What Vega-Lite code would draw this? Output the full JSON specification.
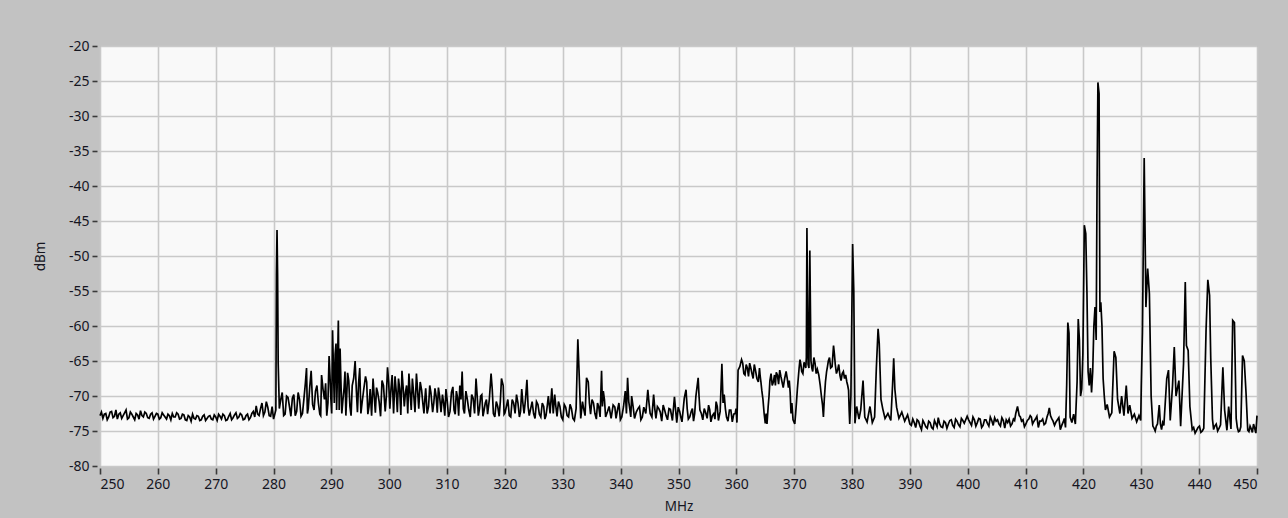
{
  "$schema": "https://vega.github.io/schema/vega-lite/v6.json",
  "width": 1157,
  "height": 420,
  "autosize": {"type": "none"},
  "padding": {"left": 100, "top": 46, "right": 31, "bottom": 52},
  "background": "#c2c2c2",
  "config": {
    "view": {"fill": "#f9f9f9", "stroke": "#9a9a9a", "strokeWidth": 1},
    "axis": {
      "labelFont": "Noto Sans",
      "titleFont": "Noto Sans",
      "labelFontSize": 14,
      "titleFontSize": 13.5,
      "titleFontWeight": "normal",
      "labelColor": "#15151f",
      "titleColor": "#15151f",
      "gridColor": "#c9c9c9",
      "gridWidth": 1.6,
      "tickColor": "#3a3a3a",
      "tickWidth": 1.6,
      "domain": false
    }
  },
  "data": {
    "values": [
      {"f":250.0,"d":-72.8},{"f":250.5,"d":-73.2},{"f":251.0,"d":-72.5},{"f":251.5,"d":-73.0},{"f":252.0,"d":-72.2},{"f":252.5,"d":-72.9},{"f":253.0,"d":-73.3},{"f":253.5,"d":-72.4},{"f":254.0,"d":-72.8},{"f":254.5,"d":-72.0},{"f":255.0,"d":-73.1},{"f":255.5,"d":-72.6},{"f":256.0,"d":-73.4},{"f":256.5,"d":-72.7},{"f":257.0,"d":-72.1},{"f":257.5,"d":-73.0},{"f":258.0,"d":-72.5},{"f":258.5,"d":-73.2},{"f":259.0,"d":-72.4},{"f":259.5,"d":-72.9},
      {"f":260.0,"d":-72.6},{"f":260.5,"d":-73.1},{"f":261.0,"d":-72.7},{"f":261.5,"d":-73.3},{"f":262.0,"d":-72.8},{"f":262.5,"d":-72.5},{"f":263.0,"d":-73.0},{"f":263.5,"d":-72.6},{"f":264.0,"d":-73.2},{"f":264.5,"d":-72.7},{"f":265.0,"d":-73.5},{"f":265.5,"d":-73.0},{"f":266.0,"d":-72.6},{"f":266.5,"d":-73.3},{"f":267.0,"d":-72.9},{"f":267.5,"d":-73.4},{"f":268.0,"d":-72.7},{"f":268.5,"d":-73.2},{"f":269.0,"d":-72.8},{"f":269.5,"d":-73.4},
      {"f":270.0,"d":-73.0},{"f":270.5,"d":-72.6},{"f":271.0,"d":-73.3},{"f":271.5,"d":-72.8},{"f":272.0,"d":-73.4},{"f":272.5,"d":-72.5},{"f":273.0,"d":-73.1},{"f":273.5,"d":-72.4},{"f":274.0,"d":-73.0},{"f":274.5,"d":-72.7},{"f":275.0,"d":-73.3},{"f":275.5,"d":-72.6},{"f":276.0,"d":-73.1},{"f":276.5,"d":-72.2},{"f":277.0,"d":-71.4},{"f":277.5,"d":-72.8},{"f":278.0,"d":-71.0},{"f":278.5,"d":-72.3},{"f":279.0,"d":-71.6},{"f":279.5,"d":-72.9},
      {"f":280.0,"d":-73.3},{"f":280.4,"d":-72.0},{"f":280.5,"d":-52.7},{"f":280.6,"d":-46.3},{"f":280.7,"d":-52.7},{"f":280.8,"d":-65.3},{"f":281.0,"d":-71.8},{"f":281.5,"d":-69.5},{"f":282.0,"d":-72.6},{"f":282.5,"d":-70.2},{"f":283.0,"d":-72.9},{"f":283.5,"d":-69.8},{"f":284.0,"d":-72.2},{"f":284.5,"d":-70.5},{"f":285.0,"d":-72.5},{"f":285.5,"d":-68.2},{"f":285.7,"d":-66.0},{"f":286.0,"d":-71.8},{"f":286.5,"d":-66.4},{"f":287.0,"d":-72.0},{"f":287.5,"d":-68.5},{"f":288.0,"d":-72.6},{"f":288.3,"d":-67.0},{"f":288.8,"d":-70.5},{"f":289.2,"d":-72.8},{"f":289.6,"d":-64.3},{"f":289.9,"d":-70.2},
      {"f":290.2,"d":-60.6},{"f":290.5,"d":-71.0},{"f":290.8,"d":-62.5},{"f":291.0,"d":-68.5},{"f":291.2,"d":-59.2},{"f":291.5,"d":-63.2},{"f":291.8,"d":-72.5},{"f":292.2,"d":-68.8},{"f":292.5,"d":-72.8},{"f":292.8,"d":-66.7},{"f":293.2,"d":-71.5},{"f":293.6,"d":-68.5},{"f":294.1,"d":-65.0},{"f":294.5,"d":-72.3},{"f":294.9,"d":-66.0},{"f":295.3,"d":-71.0},{"f":295.9,"d":-67.2},{"f":296.3,"d":-72.6},{"f":296.7,"d":-69.0},{"f":297.2,"d":-67.5},{"f":297.6,"d":-72.4},{"f":298.0,"d":-69.5},{"f":298.5,"d":-72.9},{"f":299.0,"d":-68.5},{"f":299.7,"d":-65.9},
      {"f":300.1,"d":-71.8},{"f":300.5,"d":-67.0},{"f":301.0,"d":-67.2},{"f":301.4,"d":-72.3},{"f":301.8,"d":-69.0},{"f":302.2,"d":-66.4},{"f":302.6,"d":-71.5},{"f":303.0,"d":-68.5},{"f":303.4,"d":-66.8},{"f":303.8,"d":-72.0},{"f":304.2,"d":-69.5},{"f":304.7,"d":-66.8},{"f":305.1,"d":-71.8},{"f":305.6,"d":-69.2},{"f":306.0,"d":-72.5},{"f":306.3,"d":-68.9},{"f":306.8,"d":-71.5},{"f":307.2,"d":-69.5},{"f":307.9,"d":-68.9},{"f":308.3,"d":-72.4},{"f":308.7,"d":-70.0},{"f":309.2,"d":-69.8},{"f":309.6,"d":-72.8},
      {"f":310.0,"d":-70.5},{"f":310.5,"d":-72.2},{"f":311.0,"d":-68.7},{"f":311.4,"d":-72.6},{"f":311.8,"d":-70.2},{"f":312.2,"d":-68.5},{"f":312.6,"d":-66.5},{"f":313.0,"d":-72.5},{"f":313.5,"d":-70.5},{"f":314.0,"d":-73.0},{"f":314.5,"d":-70.3},{"f":315.0,"d":-67.5},{"f":315.4,"d":-72.8},{"f":315.8,"d":-70.0},{"f":316.2,"d":-72.9},{"f":316.6,"d":-71.0},{"f":317.0,"d":-72.6},{"f":317.6,"d":-66.8},{"f":318.0,"d":-72.5},{"f":318.5,"d":-70.8},{"f":319.0,"d":-72.9},{"f":319.4,"d":-67.5},{"f":319.7,"d":-68.5},
      {"f":320.0,"d":-72.4},{"f":320.5,"d":-70.5},{"f":321.0,"d":-73.0},{"f":321.5,"d":-71.0},{"f":322.0,"d":-69.8},{"f":322.5,"d":-73.0},{"f":322.9,"d":-69.0},{"f":323.3,"d":-72.5},{"f":323.8,"d":-67.7},{"f":324.2,"d":-72.8},{"f":324.7,"d":-70.8},{"f":325.2,"d":-73.2},{"f":325.7,"d":-71.2},{"f":326.2,"d":-73.0},{"f":326.7,"d":-71.5},{"f":327.1,"d":-72.8},{"f":327.5,"d":-70.0},{"f":328.1,"d":-68.9},{"f":328.6,"d":-69.8},{"f":329.0,"d":-72.9},{"f":329.5,"d":-71.5},
      {"f":330.0,"d":-73.4},{"f":330.5,"d":-71.6},{"f":331.0,"d":-73.0},{"f":331.5,"d":-71.8},{"f":332.0,"d":-73.5},{"f":332.6,"d":-61.9},{"f":332.8,"d":-66.3},{"f":333.1,"d":-73.2},{"f":333.6,"d":-71.8},{"f":334.1,"d":-67.4},{"f":334.4,"d":-68.0},{"f":334.8,"d":-72.6},{"f":335.3,"d":-71.0},{"f":335.8,"d":-73.3},{"f":336.2,"d":-71.5},{"f":336.7,"d":-66.4},{"f":337.0,"d":-69.3},{"f":337.4,"d":-73.0},{"f":338.0,"d":-71.5},{"f":338.7,"d":-71.3},{"f":339.2,"d":-73.2},{"f":339.7,"d":-71.0},
      {"f":340.2,"d":-73.0},{"f":340.8,"d":-69.3},{"f":341.2,"d":-67.4},{"f":341.6,"d":-72.0},{"f":341.9,"d":-70.0},{"f":342.4,"d":-73.2},{"f":343.0,"d":-71.8},{"f":343.5,"d":-73.4},{"f":344.0,"d":-71.6},{"f":344.7,"d":-69.1},{"f":345.1,"d":-72.5},{"f":345.7,"d":-69.8},{"f":346.1,"d":-73.2},{"f":346.6,"d":-71.8},{"f":347.1,"d":-73.6},{"f":347.6,"d":-72.0},{"f":348.1,"d":-73.4},{"f":348.6,"d":-71.9},{"f":349.3,"d":-70.1},{"f":349.7,"d":-73.8},
      {"f":350.2,"d":-72.2},{"f":350.6,"d":-73.7},{"f":351.0,"d":-70.3},{"f":351.3,"d":-69.1},{"f":351.7,"d":-73.3},{"f":352.2,"d":-72.2},{"f":352.6,"d":-73.6},{"f":353.0,"d":-70.1},{"f":353.4,"d":-67.4},{"f":353.7,"d":-72.0},{"f":354.2,"d":-73.4},{"f":354.7,"d":-72.4},{"f":355.2,"d":-71.3},{"f":355.6,"d":-73.7},{"f":356.1,"d":-72.5},{"f":356.5,"d":-70.8},{"f":356.9,"d":-73.5},{"f":357.5,"d":-65.4},{"f":357.9,"d":-69.8},{"f":358.3,"d":-73.0},{"f":358.8,"d":-72.0},{"f":359.3,"d":-73.7},{"f":359.8,"d":-72.5},
      {"f":360.1,"d":-73.8},{"f":360.3,"d":-66.3},{"f":360.9,"d":-64.8},{"f":361.3,"d":-66.8},{"f":361.7,"d":-65.5},{"f":362.1,"d":-67.2},{"f":362.5,"d":-66.0},{"f":362.9,"d":-67.5},{"f":363.3,"d":-66.3},{"f":363.8,"d":-68.0},{"f":364.1,"d":-67.0},{"f":364.4,"d":-69.2},{"f":364.8,"d":-72.5},{"f":365.0,"d":-73.9},{"f":365.3,"d":-74.0},{"f":365.5,"d":-71.5},{"f":365.8,"d":-67.8},{"f":366.2,"d":-68.5},{"f":366.6,"d":-67.0},{"f":366.9,"d":-66.6},{"f":367.3,"d":-68.3},{"f":367.7,"d":-67.2},{"f":368.1,"d":-68.8},{"f":368.6,"d":-66.5},{"f":369.0,"d":-68.8},{"f":369.3,"d":-69.5},{"f":369.6,"d":-71.0},{"f":369.8,"d":-73.4},
      {"f":370.1,"d":-74.0},{"f":370.4,"d":-70.8},{"f":370.7,"d":-67.5},{"f":371.0,"d":-64.8},{"f":371.3,"d":-66.5},{"f":371.7,"d":-65.2},{"f":372.0,"d":-66.0},{"f":372.2,"d":-46.0},{"f":372.4,"d":-65.5},{"f":372.7,"d":-49.2},{"f":372.9,"d":-65.0},{"f":373.2,"d":-66.5},{"f":373.6,"d":-65.3},{"f":374.0,"d":-66.2},{"f":374.5,"d":-68.5},{"f":374.9,"d":-71.3},{"f":375.2,"d":-70.5},{"f":375.6,"d":-66.5},{"f":375.9,"d":-65.0},{"f":376.3,"d":-66.0},{"f":376.8,"d":-62.8},{"f":377.1,"d":-65.5},{"f":377.5,"d":-66.3},{"f":377.9,"d":-67.0},{"f":378.3,"d":-66.8},{"f":378.7,"d":-67.5},{"f":379.1,"d":-68.0},{"f":379.4,"d":-69.2},{"f":379.6,"d":-74.0},{"f":379.8,"d":-70.0},
      {"f":380.1,"d":-48.3},{"f":380.3,"d":-55.0},{"f":380.5,"d":-73.9},{"f":380.8,"d":-71.5},{"f":381.2,"d":-73.3},{"f":381.5,"d":-72.0},{"f":381.9,"d":-67.8},{"f":382.2,"d":-73.0},{"f":382.6,"d":-73.7},{"f":383.1,"d":-71.5},{"f":383.5,"d":-73.8},{"f":383.9,"d":-73.0},{"f":384.2,"d":-66.0},{"f":384.5,"d":-60.4},{"f":384.7,"d":-62.5},{"f":385.0,"d":-70.5},{"f":385.3,"d":-71.8},{"f":385.7,"d":-73.2},{"f":386.2,"d":-72.5},{"f":386.7,"d":-73.5},{"f":387.0,"d":-68.5},{"f":387.2,"d":-64.6},{"f":387.4,"d":-69.0},{"f":387.7,"d":-71.6},{"f":388.1,"d":-73.2},{"f":388.6,"d":-72.3},{"f":389.1,"d":-73.6},{"f":389.6,"d":-72.7},
      {"f":390.0,"d":-74.0},{"f":390.5,"d":-73.3},{"f":391.0,"d":-74.5},{"f":391.5,"d":-73.6},{"f":392.0,"d":-74.8},{"f":392.5,"d":-73.9},{"f":393.0,"d":-74.6},{"f":393.5,"d":-73.8},{"f":394.0,"d":-74.7},{"f":394.5,"d":-74.0},{"f":394.9,"d":-73.1},{"f":395.4,"d":-74.4},{"f":395.9,"d":-73.6},{"f":396.4,"d":-74.6},{"f":396.9,"d":-73.5},{"f":397.4,"d":-74.2},{"f":397.9,"d":-73.3},{"f":398.4,"d":-74.1},{"f":398.9,"d":-73.2},{"f":399.4,"d":-73.9},{"f":399.9,"d":-72.9},
      {"f":400.4,"d":-73.8},{"f":400.9,"d":-73.0},{"f":401.4,"d":-74.3},{"f":401.9,"d":-73.2},{"f":402.4,"d":-74.5},{"f":402.9,"d":-73.4},{"f":403.4,"d":-73.9},{"f":403.9,"d":-73.0},{"f":404.4,"d":-74.2},{"f":404.9,"d":-73.6},{"f":405.4,"d":-74.0},{"f":405.9,"d":-73.1},{"f":406.4,"d":-74.6},{"f":406.9,"d":-73.8},{"f":407.4,"d":-74.3},{"f":407.9,"d":-73.3},{"f":408.3,"d":-72.5},{"f":408.6,"d":-71.5},{"f":408.9,"d":-72.8},{"f":409.3,"d":-73.6},{"f":409.8,"d":-74.4},
      {"f":410.3,"d":-73.5},{"f":410.8,"d":-72.8},{"f":411.2,"d":-74.0},{"f":411.7,"d":-73.3},{"f":412.2,"d":-74.5},{"f":412.7,"d":-73.6},{"f":413.2,"d":-74.1},{"f":413.7,"d":-73.0},{"f":414.1,"d":-71.7},{"f":414.5,"d":-73.2},{"f":415.0,"d":-74.2},{"f":415.5,"d":-73.4},{"f":416.0,"d":-74.8},{"f":416.5,"d":-73.7},{"f":416.9,"d":-74.5},{"f":417.1,"d":-68.5},{"f":417.3,"d":-59.5},{"f":417.5,"d":-61.0},{"f":417.7,"d":-73.0},{"f":418.0,"d":-73.8},{"f":418.3,"d":-72.6},{"f":418.6,"d":-74.0},{"f":418.9,"d":-68.0},{"f":419.1,"d":-59.0},{"f":419.3,"d":-62.0},{"f":419.5,"d":-70.0},{"f":419.7,"d":-69.0},{"f":419.9,"d":-64.0},
      {"f":420.15,"d":-45.6},{"f":420.4,"d":-46.8},{"f":420.6,"d":-55.0},{"f":420.8,"d":-66.5},{"f":421.0,"d":-68.5},{"f":421.2,"d":-66.0},{"f":421.4,"d":-69.5},{"f":421.6,"d":-66.5},{"f":421.8,"d":-60.0},{"f":422.0,"d":-57.3},{"f":422.2,"d":-62.0},{"f":422.35,"d":-40.0},{"f":422.5,"d":-25.2},{"f":422.7,"d":-26.8},{"f":422.85,"d":-58.0},{"f":423.0,"d":-56.6},{"f":423.2,"d":-60.0},{"f":423.4,"d":-67.5},{"f":423.6,"d":-70.0},{"f":423.8,"d":-72.0},{"f":424.1,"d":-71.2},{"f":424.5,"d":-73.0},{"f":424.9,"d":-72.4},{"f":425.3,"d":-63.6},{"f":425.6,"d":-64.5},{"f":425.9,"d":-70.5},{"f":426.3,"d":-72.5},{"f":426.6,"d":-70.0},{"f":427.0,"d":-72.8},{"f":427.4,"d":-68.5},{"f":427.7,"d":-72.5},{"f":428.0,"d":-71.3},{"f":428.4,"d":-73.2},{"f":428.8,"d":-72.6},{"f":429.2,"d":-73.7},{"f":429.6,"d":-72.8},{"f":429.9,"d":-73.5},
      {"f":430.0,"d":-68.5},{"f":430.2,"d":-60.9},{"f":430.5,"d":-36.0},{"f":430.8,"d":-57.3},{"f":431.1,"d":-51.8},{"f":431.4,"d":-55.4},{"f":431.7,"d":-70.0},{"f":432.0,"d":-74.3},{"f":432.4,"d":-75.0},{"f":432.8,"d":-74.0},{"f":433.1,"d":-71.3},{"f":433.5,"d":-74.8},{"f":433.9,"d":-74.2},{"f":434.4,"d":-67.5},{"f":434.7,"d":-66.3},{"f":435.0,"d":-73.5},{"f":435.4,"d":-68.5},{"f":435.7,"d":-63.0},{"f":436.0,"d":-70.0},{"f":436.5,"d":-67.8},{"f":436.8,"d":-74.3},{"f":437.3,"d":-65.4},{"f":437.6,"d":-53.7},{"f":437.8,"d":-62.8},{"f":438.1,"d":-63.5},{"f":438.4,"d":-71.5},{"f":438.8,"d":-74.8},{"f":439.3,"d":-75.3},{"f":439.8,"d":-74.5},
      {"f":440.3,"d":-75.2},{"f":440.8,"d":-74.6},{"f":441.2,"d":-60.4},{"f":441.5,"d":-53.4},{"f":441.8,"d":-55.6},{"f":442.0,"d":-64.5},{"f":442.3,"d":-73.3},{"f":442.7,"d":-74.3},{"f":443.2,"d":-75.0},{"f":443.7,"d":-74.1},{"f":444.1,"d":-65.9},{"f":444.4,"d":-72.0},{"f":444.8,"d":-74.9},{"f":445.1,"d":-71.5},{"f":445.5,"d":-74.7},{"f":445.8,"d":-59.2},{"f":446.1,"d":-59.5},{"f":446.4,"d":-73.2},{"f":446.8,"d":-75.1},{"f":447.2,"d":-74.4},{"f":447.5,"d":-64.2},{"f":447.8,"d":-65.0},{"f":448.1,"d":-69.5},{"f":448.4,"d":-74.9},{"f":448.8,"d":-74.3},{"f":449.2,"d":-75.2},{"f":449.6,"d":-74.6},{"f":450.0,"d":-72.8},
      {"f":250.25,"d":-72.3},{"f":250.75,"d":-72.6},{"f":251.25,"d":-73.4},{"f":251.75,"d":-72.3},{"f":252.25,"d":-73.1},{"f":252.75,"d":-72.0},{"f":253.25,"d":-72.6},{"f":253.75,"d":-73.2},{"f":254.25,"d":-72.4},{"f":254.75,"d":-73.3},{"f":255.25,"d":-72.3},{"f":255.75,"d":-73.0},{"f":256.25,"d":-72.5},{"f":256.75,"d":-73.3},{"f":257.25,"d":-72.8},{"f":257.75,"d":-72.3},{"f":258.25,"d":-73.1},{"f":258.75,"d":-72.6},{"f":259.25,"d":-73.3},{"f":259.75,"d":-72.5},
      {"f":260.25,"d":-73.3},{"f":260.75,"d":-72.4},{"f":261.25,"d":-73.0},{"f":261.75,"d":-72.6},{"f":262.25,"d":-73.4},{"f":262.75,"d":-73.0},{"f":263.25,"d":-72.4},{"f":263.75,"d":-73.3},{"f":264.25,"d":-72.6},{"f":264.75,"d":-73.4},{"f":265.25,"d":-72.8},{"f":265.75,"d":-73.6},{"f":266.25,"d":-73.2},{"f":266.75,"d":-72.8},{"f":267.25,"d":-73.5},{"f":267.75,"d":-72.9},{"f":268.25,"d":-73.5},{"f":268.75,"d":-72.9},{"f":269.25,"d":-73.3},{"f":269.75,"d":-72.7},
      {"f":270.25,"d":-73.5},{"f":270.75,"d":-72.9},{"f":271.25,"d":-72.6},{"f":271.75,"d":-73.5},{"f":272.25,"d":-72.9},{"f":272.75,"d":-73.4},{"f":273.25,"d":-72.7},{"f":273.75,"d":-73.2},{"f":274.25,"d":-72.5},{"f":274.75,"d":-73.4},{"f":275.25,"d":-72.8},{"f":275.75,"d":-73.4},{"f":276.25,"d":-72.5},{"f":276.75,"d":-73.0},{"f":277.25,"d":-72.6},{"f":277.75,"d":-71.8},{"f":278.25,"d":-72.8},{"f":278.75,"d":-70.8},{"f":279.25,"d":-72.8},{"f":279.75,"d":-71.5},
      {"f":281.25,"d":-70.5},{"f":281.75,"d":-72.8},{"f":282.25,"d":-70.0},{"f":282.75,"d":-71.5},{"f":283.25,"d":-70.3},{"f":283.75,"d":-72.8},{"f":284.25,"d":-69.5},{"f":284.75,"d":-72.9},{"f":285.25,"d":-70.4},{"f":285.85,"d":-72.5},{"f":286.25,"d":-68.8},{"f":286.75,"d":-71.2},{"f":287.25,"d":-69.3},{"f":287.75,"d":-71.0},{"f":288.15,"d":-72.8},{"f":288.55,"d":-69.0},{"f":289.0,"d":-68.2},{"f":289.4,"d":-71.0},{"f":289.75,"d":-67.0},
      {"f":290.05,"d":-72.5},{"f":290.35,"d":-66.0},{"f":290.65,"d":-64.0},{"f":290.9,"d":-72.0},{"f":291.1,"d":-63.5},{"f":291.35,"d":-72.0},{"f":291.65,"d":-68.0},{"f":292.0,"d":-70.5},{"f":292.35,"d":-66.5},{"f":292.65,"d":-70.0},{"f":293.0,"d":-67.8},{"f":293.4,"d":-72.8},{"f":293.85,"d":-67.5},{"f":294.3,"d":-69.0},{"f":294.7,"d":-68.2},{"f":295.1,"d":-72.5},{"f":295.6,"d":-69.0},{"f":296.1,"d":-68.0},{"f":296.5,"d":-71.5},{"f":296.95,"d":-72.8},{"f":297.4,"d":-70.0},{"f":297.8,"d":-68.8},{"f":298.25,"d":-70.8},{"f":298.75,"d":-67.8},{"f":299.3,"d":-72.2},{"f":299.5,"d":-70.0},{"f":299.9,"d":-68.0},
      {"f":300.3,"d":-69.0},{"f":300.75,"d":-72.5},{"f":301.2,"d":-69.3},{"f":301.6,"d":-67.5},{"f":302.0,"d":-72.7},{"f":302.4,"d":-68.8},{"f":302.8,"d":-69.5},{"f":303.2,"d":-72.5},{"f":303.6,"d":-69.5},{"f":304.0,"d":-67.5},{"f":304.45,"d":-72.3},{"f":304.9,"d":-69.2},{"f":305.35,"d":-68.0},{"f":305.8,"d":-71.0},{"f":306.15,"d":-70.5},{"f":306.55,"d":-72.5},{"f":307.0,"d":-68.5},{"f":307.5,"d":-72.3},{"f":307.7,"d":-71.0},{"f":308.1,"d":-70.0},{"f":308.5,"d":-68.8},{"f":308.95,"d":-72.3},{"f":309.4,"d":-71.0},{"f":309.8,"d":-69.0},
      {"f":310.25,"d":-73.0},{"f":310.75,"d":-69.5},{"f":311.2,"d":-72.0},{"f":311.6,"d":-69.3},{"f":312.0,"d":-72.8},{"f":312.4,"d":-70.5},{"f":312.8,"d":-71.8},{"f":313.25,"d":-69.3},{"f":313.75,"d":-72.0},{"f":314.25,"d":-69.8},{"f":314.75,"d":-72.5},{"f":315.2,"d":-70.0},{"f":315.6,"d":-71.8},{"f":316.0,"d":-69.8},{"f":316.4,"d":-72.0},{"f":316.8,"d":-70.5},
      {"f":317.3,"d":-70.5},{"f":317.8,"d":-69.0},{"f":318.25,"d":-73.0},{"f":318.75,"d":-71.5},{"f":319.2,"d":-70.8},{"f":319.85,"d":-72.6},{"f":320.25,"d":-71.5},{"f":320.75,"d":-72.8},{"f":321.25,"d":-70.5},{"f":321.75,"d":-72.5},{"f":322.25,"d":-71.0},{"f":322.7,"d":-72.2},{"f":323.1,"d":-71.0},{"f":323.55,"d":-70.5},{"f":324.0,"d":-71.5},{"f":324.45,"d":-71.8},{"f":324.95,"d":-72.5},{"f":325.45,"d":-70.8},{"f":325.95,"d":-72.6},{"f":326.45,"d":-71.0},{"f":326.9,"d":-73.3},{"f":327.3,"d":-71.5},{"f":327.8,"d":-72.5},{"f":328.35,"d":-72.5},{"f":328.8,"d":-71.5},{"f":329.25,"d":-70.8},{"f":329.75,"d":-73.0},
      {"f":330.25,"d":-71.2},{"f":330.75,"d":-72.8},{"f":331.25,"d":-71.2},{"f":331.75,"d":-73.2},{"f":332.3,"d":-71.8},{"f":333.4,"d":-70.8},{"f":333.85,"d":-72.8},{"f":334.6,"d":-71.0},{"f":335.05,"d":-70.5},{"f":335.55,"d":-72.5},{"f":336.0,"d":-71.0},{"f":336.45,"d":-73.0},{"f":336.85,"d":-71.5},{"f":337.2,"d":-70.5},{"f":337.7,"d":-72.3},{"f":338.35,"d":-73.2},{"f":339.0,"d":-71.6},{"f":339.45,"d":-72.0},{"f":339.95,"d":-73.4},
      {"f":340.5,"d":-71.5},{"f":341.0,"d":-72.5},{"f":341.4,"d":-70.8},{"f":341.75,"d":-73.0},{"f":342.15,"d":-71.5},{"f":342.7,"d":-72.3},{"f":343.25,"d":-71.5},{"f":343.75,"d":-73.0},{"f":344.35,"d":-72.5},{"f":344.9,"d":-71.0},{"f":345.4,"d":-73.0},{"f":345.9,"d":-71.8},{"f":346.35,"d":-71.5},{"f":346.85,"d":-72.3},{"f":347.35,"d":-71.3},{"f":347.85,"d":-72.8},{"f":348.35,"d":-71.8},{"f":348.95,"d":-73.5},{"f":349.5,"d":-72.0},{"f":349.95,"d":-71.6},
      {"f":350.4,"d":-73.0},{"f":350.8,"d":-72.0},{"f":351.5,"d":-71.8},{"f":351.95,"d":-73.0},{"f":352.4,"d":-71.8},{"f":352.8,"d":-72.5},{"f":353.55,"d":-70.0},{"f":353.95,"d":-72.5},{"f":354.45,"d":-71.8},{"f":354.95,"d":-73.2},{"f":355.4,"d":-72.0},{"f":355.85,"d":-72.8},{"f":356.3,"d":-73.3},{"f":356.7,"d":-71.5},{"f":357.2,"d":-72.2},{"f":357.7,"d":-71.0},{"f":358.1,"d":-71.8},{"f":358.55,"d":-73.6},{"f":359.05,"d":-72.0},{"f":359.55,"d":-72.6},{"f":359.95,"d":-71.8},
      {"f":360.6,"d":-65.8},{"f":361.1,"d":-65.3},{"f":361.5,"d":-67.0},{"f":361.9,"d":-66.0},{"f":362.3,"d":-65.3},{"f":362.7,"d":-66.8},{"f":363.1,"d":-65.5},{"f":363.55,"d":-67.5},{"f":364.0,"d":-66.0},{"f":364.25,"d":-68.0},{"f":364.6,"d":-70.5},{"f":365.15,"d":-72.5},{"f":365.65,"d":-70.0},{"f":366.0,"d":-66.8},{"f":366.4,"d":-68.0},{"f":366.75,"d":-68.5},{"f":367.1,"d":-67.0},{"f":367.5,"d":-66.3},{"f":367.9,"d":-68.0},{"f":368.35,"d":-67.5},{"f":368.8,"d":-67.5},{"f":369.15,"d":-67.8},{"f":369.45,"d":-72.5},
      {"f":370.25,"d":-72.5},{"f":370.55,"d":-69.0},{"f":370.85,"d":-66.0},{"f":371.15,"d":-65.5},{"f":371.5,"d":-66.8},{"f":371.85,"d":-65.5},{"f":372.1,"d":-64.5},{"f":372.55,"d":-66.0},{"f":373.05,"d":-66.0},{"f":373.4,"d":-64.5},{"f":373.8,"d":-66.8},{"f":374.25,"d":-67.0},{"f":374.7,"d":-70.0},{"f":375.05,"d":-73.0},{"f":375.4,"d":-68.0},{"f":375.75,"d":-65.8},{"f":376.1,"d":-64.5},{"f":376.55,"d":-65.8},{"f":376.95,"d":-64.0},{"f":377.3,"d":-66.8},{"f":377.7,"d":-65.5},{"f":378.1,"d":-67.8},{"f":378.5,"d":-66.5},{"f":378.9,"d":-67.0},{"f":379.25,"d":-68.5},{"f":379.5,"d":-72.0},
      {"f":390.25,"d":-74.2},{"f":390.75,"d":-73.8},{"f":391.25,"d":-73.4},{"f":391.75,"d":-74.3},{"f":392.25,"d":-73.5},{"f":392.75,"d":-74.4},{"f":393.25,"d":-73.6},{"f":393.75,"d":-74.5},{"f":394.25,"d":-73.5},{"f":394.7,"d":-74.4},{"f":395.15,"d":-74.0},{"f":395.65,"d":-74.5},{"f":396.15,"d":-73.8},{"f":396.65,"d":-74.0},{"f":397.15,"d":-73.4},{"f":397.65,"d":-74.5},{"f":398.15,"d":-73.6},{"f":398.65,"d":-74.4},{"f":399.15,"d":-73.5},{"f":399.65,"d":-73.4},
      {"f":400.15,"d":-73.4},{"f":400.65,"d":-74.2},{"f":401.15,"d":-73.4},{"f":401.65,"d":-73.8},{"f":402.15,"d":-73.3},{"f":402.65,"d":-74.2},{"f":403.15,"d":-73.4},{"f":403.65,"d":-74.3},{"f":404.15,"d":-73.5},{"f":404.65,"d":-73.1},{"f":405.15,"d":-73.4},{"f":405.65,"d":-74.3},{"f":406.15,"d":-73.5},{"f":406.65,"d":-73.4},{"f":407.15,"d":-73.3},{"f":407.65,"d":-74.0},{"f":408.1,"d":-73.5},{"f":409.1,"d":-73.0},{"f":409.55,"d":-73.4},
      {"f":410.05,"d":-74.0},{"f":410.55,"d":-73.3},{"f":411.0,"d":-73.0},{"f":411.45,"d":-73.6},{"f":411.95,"d":-72.9},{"f":412.45,"d":-73.6},{"f":412.95,"d":-73.3},{"f":413.45,"d":-73.9},{"f":413.9,"d":-72.5},{"f":414.3,"d":-72.8},{"f":414.75,"d":-73.6},{"f":415.25,"d":-73.7},{"f":415.75,"d":-73.1},{"f":416.25,"d":-74.2},{"f":416.7,"d":-73.2},
      {"f":432.2,"d":-74.6},{"f":432.6,"d":-74.3},{"f":433.3,"d":-74.0},{"f":433.7,"d":-73.8},{"f":439.05,"d":-74.5},{"f":439.55,"d":-74.9},{"f":440.05,"d":-74.3},{"f":440.55,"d":-75.0},{"f":442.5,"d":-74.8},{"f":442.95,"d":-74.0},{"f":443.45,"d":-74.6},{"f":446.6,"d":-74.5},{"f":447.0,"d":-75.0},{"f":448.6,"d":-75.1},{"f":449.0,"d":-74.7},{"f":449.4,"d":-74.0},{"f":449.8,"d":-75.3}
    ]
  },
  "mark": {"type": "line", "color": "#000000", "strokeWidth": 1.7, "interpolate": "linear"},
  "encoding": {
    "x": {
      "field": "f", "type": "quantitative", "title": "MHz", "sort": "ascending",
      "scale": {"domain": [250, 450], "nice": false, "zero": false},
      "axis": {"values": [250,260,270,280,290,300,310,320,330,340,350,360,370,380,390,400,410,420,430,440,450], "offset": 2, "tickSize": 6, "labelPadding": 3, "titlePadding": 8, "labelExpr": "'' + datum.value"}
    },
    "y": {
      "field": "d", "type": "quantitative", "title": "dBm",
      "scale": {"domain": [-80, -20], "nice": false, "zero": false},
      "axis": {"values": [-80,-75,-70,-65,-60,-55,-50,-45,-40,-35,-30,-25,-20], "offset": 3, "tickSize": 5, "labelPadding": 3, "titlePadding": 21, "labelExpr": "'' + datum.value"}
    }
  }
}
